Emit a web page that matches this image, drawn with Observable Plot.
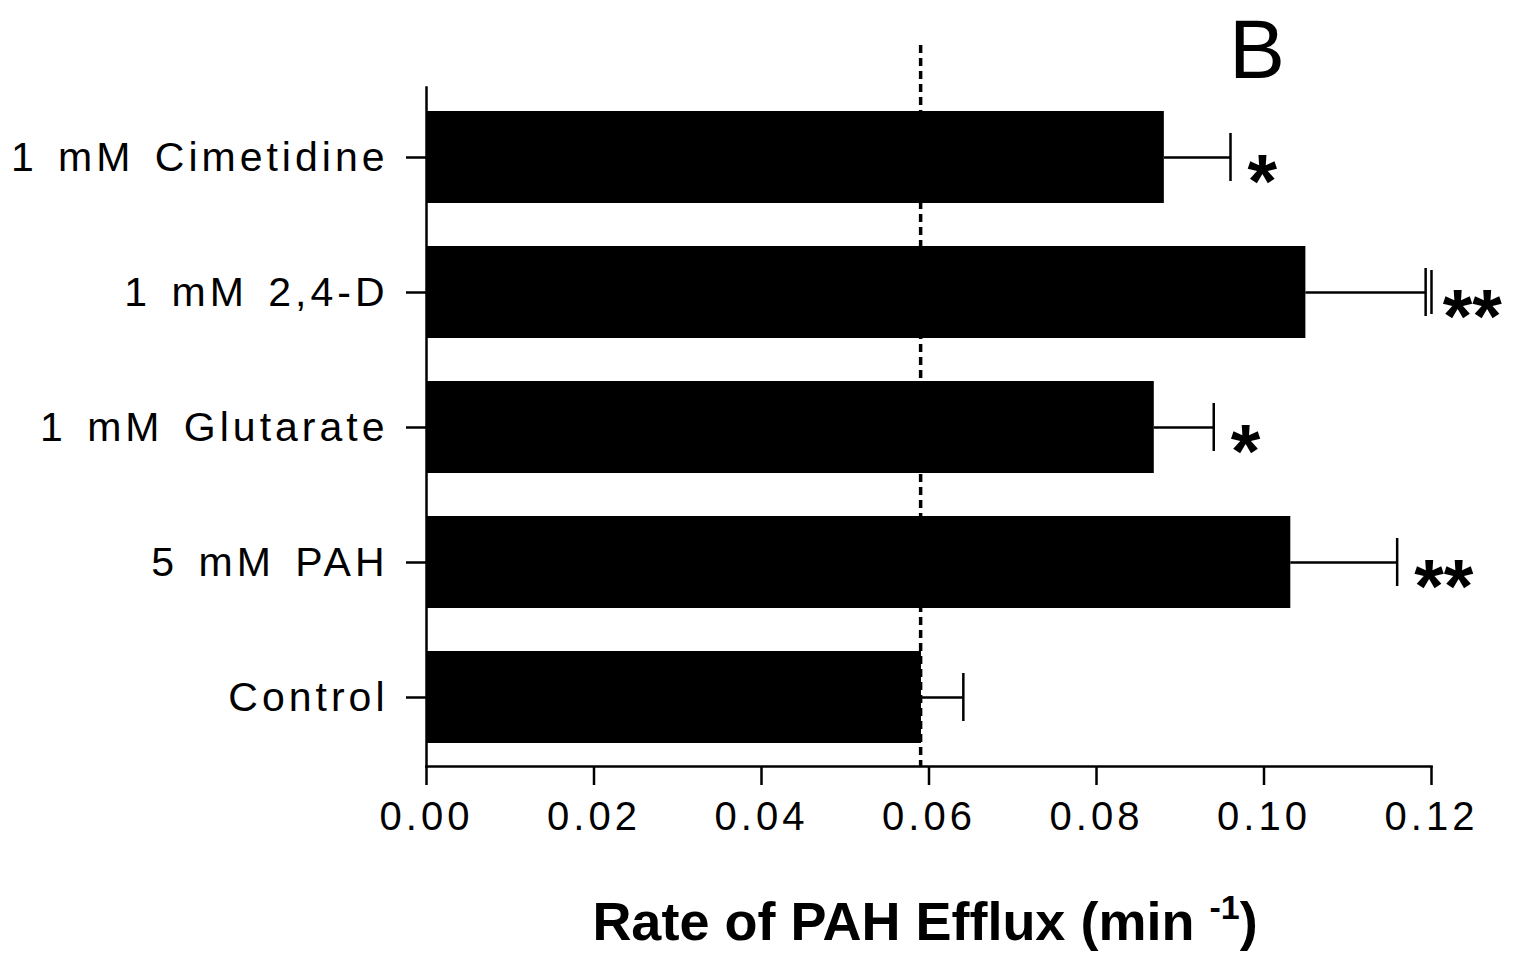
<!DOCTYPE html>
<html>
<head>
<meta charset="utf-8">
<script src="https://cdn.jsdelivr.net/npm/d3@7"></script>
<script src="https://cdn.jsdelivr.net/npm/@observablehq/plot@0.6"></script>
<style>
  html, body { margin: 0; padding: 0; background: #fff; }
  svg { display: block; }
</style>
</head>
<body>
<div id="chart"></div>
<script>
// Treatment groups, listed top to bottom
const treatments = ["1 mM Cimetidine", "1 mM 2,4-D", "1 mM Glutarate", "5 mM PAH", "Control"];
// Mean rate of PAH efflux (min^-1)
const efflux = [0.0881, 0.1050, 0.0869, 0.1032, 0.0591];
// Upper end of each error bar (mean + SEM)
const errorHigh = [0.0960, 0.1193, 0.0940, 0.1159, 0.0641];
// Significance markers
const significance = ["*", "**", "*", "**", ""];
// Second cap drawn on the 2,4-D error bar
const extraCapLabel = ["1 mM 2,4-D"];
const extraCapValue = [0.1200];
// Control mean reference line
const controlLine = [0.059];
// X axis ticks
const xTicks = [0, 0.02, 0.04, 0.06, 0.08, 0.10, 0.12];

const rows = treatments.map((t, i) => ({
  label: t, mean: efflux[i], hi: errorHigh[i], sig: significance[i]
}));
const extraCaps = extraCapLabel.map((t, i) => ({label: t, hi: extraCapValue[i]}));

const font = "'Liberation Sans', Arial, sans-serif";

const svg = Plot.plot({
  width: 1522,
  height: 953,
  marginLeft: 426,
  marginRight: 91,
  marginTop: 87,
  marginBottom: 187,
  style: {fontFamily: font, background: "#fff", color: "#000"},
  x: {domain: [0, 0.12], ticks: xTicks, tickFormat: ".2f", label: null},
  y: {domain: treatments, paddingInner: 0.32, paddingOuter: 0.16, label: null},
  marks: [
    Plot.barX(rows, {x: "mean", y: "label", fill: "#000"}),
    Plot.ruleY(rows, {y: "label", x1: "mean", x2: "hi", stroke: "#000", strokeWidth: 2.5}),
    Plot.tickX(rows, {x: "hi", y: "label", stroke: "#000", strokeWidth: 2.5, insetTop: 22, insetBottom: 22}),
    Plot.tickX(extraCaps, {x: "hi", y: "label", stroke: "#000", strokeWidth: 2.5, insetTop: 24, insetBottom: 24}),
    Plot.text(rows, {x: "hi", y: "label", text: "sig", dx: 17, dy: 49, textAnchor: "start", lineAnchor: "bottom",
      fontSize: 76, fontWeight: "bold", fill: "#000", fontFamily: font}),
    Plot.ruleX(controlLine, {stroke: "#000", strokeWidth: 3.5, strokeDasharray: "8,5", insetTop: -42}),
    Plot.frame({anchor: "left", stroke: "#000", strokeWidth: 2.5}),
    Plot.frame({anchor: "bottom", stroke: "#000", strokeWidth: 2.5}),
    Plot.axisX({ticks: xTicks, tickFormat: ".2f", tickSize: 19, tickPadding: 16, fontSize: 40,
      stroke: "#000", strokeWidth: 2.5, label: null}),
    Plot.axisY({tickSize: 20, tickPadding: 18, fontSize: 41, stroke: "#000", strokeWidth: 2.5, label: null})
  ]
});

const root = d3.select(svg);
root.selectAll('[aria-label$="tick label"] text').style("letter-spacing", "4px");
root.selectAll('[aria-label="y-axis tick label"] text').style("word-spacing", "5px");

// Panel letter
root.append("text")
  .attr("x", 1229).attr("y", 78)
  .attr("text-anchor", "start")
  .attr("font-family", font).attr("font-size", 84)
  .attr("fill", "#000")
  .text("B");

// X axis title with superscript unit
const title = root.append("text")
  .attr("x", 925).attr("y", 940)
  .attr("text-anchor", "middle")
  .attr("font-family", font).attr("font-size", 54).attr("font-weight", "bold")
  .attr("fill", "#000");
title.append("tspan").text("Rate of PAH Efflux (min ");
title.append("tspan").attr("dy", -21).attr("font-size", 34).text("-1");
title.append("tspan").attr("dy", 21).text(")");

document.getElementById("chart").appendChild(svg);
</script>
</body>
</html>
